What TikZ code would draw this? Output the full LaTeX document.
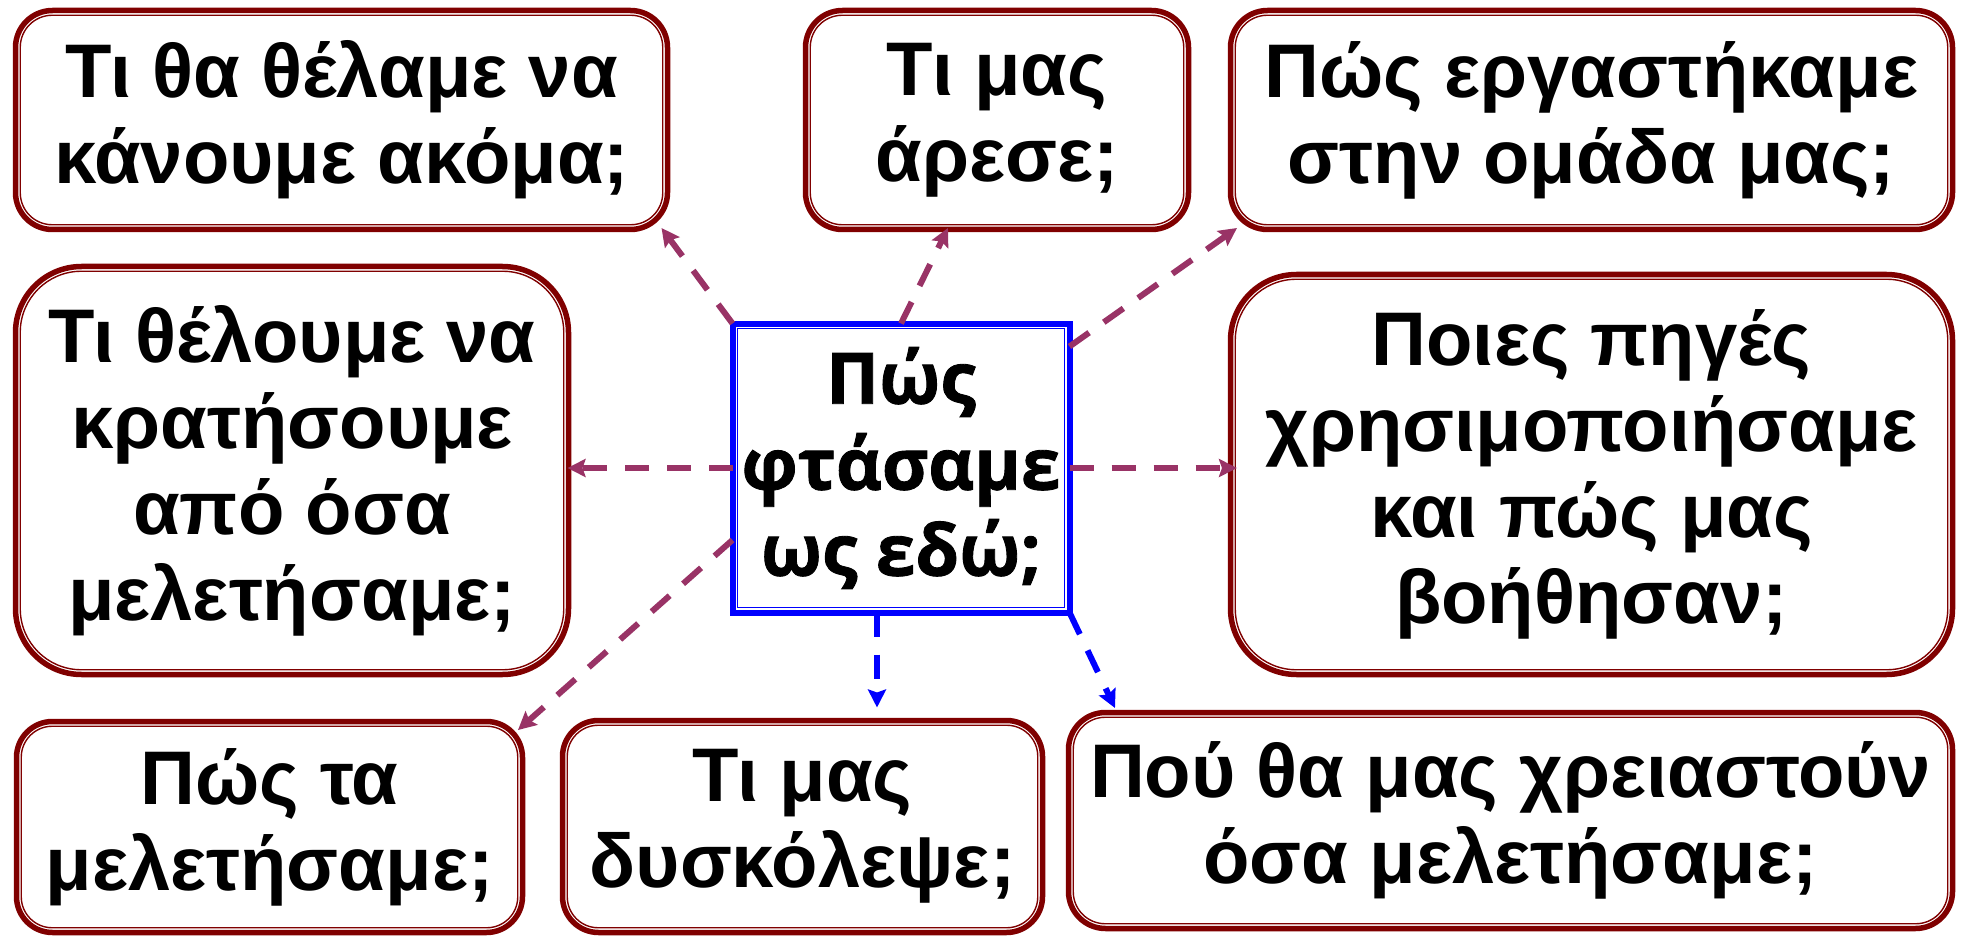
\documentclass[tikz,border=0pt]{standalone}
\usepackage{fontspec}
\setmainfont{Liberation Sans}
\newfontfamily\ctrfont{Open Sans}[BoldFeatures={FakeBold=1.2}]
\usetikzlibrary{arrows.meta,calc}
\definecolor{boxred}{HTML}{800000}
\definecolor{arrpurple}{HTML}{993366}
\definecolor{arrblue}{HTML}{0000FF}
\tikzset{
  qbox/.style={draw=boxred, line width=5.5pt, rounded corners=#1, fill=white,
    inner sep=0pt, outer sep=0pt, align=center,
    font=\fontsize{76}{86}\selectfont\bfseries},
  cbox/.style={draw=arrblue, line width=6pt, fill=white,
    inner sep=0pt, outer sep=0pt, align=center,
    font=\ctrfont\fontsize{71}{86}\selectfont\bfseries},
  innerln/.style={line width=1.4pt, rounded corners=#1},
  arrp/.style={arrpurple, line width=6pt, dash pattern=on 24pt off 18pt,
    -{Stealth[length=18pt,width=18pt,inset=3pt]}},
  arrb/.style={arrblue, line width=6pt, dash pattern=on 24pt off 18pt,
    -{Stealth[length=18pt,width=18pt,inset=3pt]}},
}
\newcommand\inline[3]{\draw[#3, innerln=#2] ($(#1.south west)+(4.75,-4.75)$) rectangle ($(#1.north east)+(-4.75,4.75)$);}
\begin{document}
\begin{tikzpicture}[x=1pt,y=-1pt]
\fill[white] (0,0) rectangle (1963,936);
\useasboundingbox (0,0) rectangle (1963,936);

\node[qbox=37pt, minimum width=652pt, minimum height=219pt] (b1) at (341.5,120) {Τι θα θέλαμε να\\κάνουμε ακόμα;};
\node[qbox=37pt, minimum width=383pt, minimum height=219pt] (b2) at (997,120) {Τι μας\\άρεσε;};
\node[qbox=37pt, minimum width=722pt, minimum height=219pt] (b3) at (1591.5,120) {Πώς εργαστήκαμε\\στην ομάδα μας;};
\node[qbox=66pt, minimum width=553pt, minimum height=408pt] (b4) at (292,470.5) {Τι θέλουμε να\\κρατήσουμε\\από όσα\\μελετήσαμε;};
\node[qbox=66pt, minimum width=722pt, minimum height=400pt] (b5) at (1591.5,474.5) {Ποιες πηγές\\χρησιμοποιήσαμε\\και πώς μας\\βοήθησαν;};
\node[qbox=36pt, minimum width=506pt, minimum height=211pt] (b6) at (269.5,827) {Πώς τα\\μελετήσαμε;};
\node[qbox=36pt, minimum width=480pt, minimum height=212pt] (b7) at (802.5,826.5) {Τι μας\\δυσκόλεψε;};
\node[qbox=37pt, minimum width=884pt, minimum height=216pt] (b8) at (1510.5,820.5) {Πού θα μας χρειαστούν\\όσα μελετήσαμε;};
\node[cbox, minimum width=337pt, minimum height=289pt] (c) at (901,468) {Πώς\\φτάσαμε\\ως εδώ;};

\inline{b1}{32pt}{boxred}
\inline{b2}{32pt}{boxred}
\inline{b3}{32pt}{boxred}
\inline{b4}{61pt}{boxred}
\inline{b5}{61pt}{boxred}
\inline{b6}{31pt}{boxred}
\inline{b7}{31pt}{boxred}
\inline{b8}{32pt}{boxred}
\draw[arrblue, line width=1.4pt] ($(c.south west)+(4.75,-4.75)$) rectangle ($(c.north east)+(-4.75,4.75)$);

\draw[arrp] (c.north west) -- ($(b1.south east)+(-6,-1.5)$);
\draw[arrp] (c.north) -- ($(b2.south)+(-49,-1.5)$);
\draw[arrp] ($(c.north east)+(0,23)$) -- ($(b3.south west)+(6.5,-1.5)$);
\draw[arrp] (c.west) -- ($(c.west -| b4.east)+(-1,0)$);
\draw[arrp] (c.east) -- ($(c.east -| b5.west)+(6.5,0)$);
\draw[arrp] ($(c.west)+(0,72)$) -- ($(b6.north east)+(-4.5,8.5)$);
\draw[arrb] ($(c.south)+(-24,0)$) -- ($(c.south |- b7.north)+(-24,-13)$);
\draw[arrb] (c.south east) -- ($(b8.north west)+(46.5,-4.5)$);
\end{tikzpicture}
\end{document}
